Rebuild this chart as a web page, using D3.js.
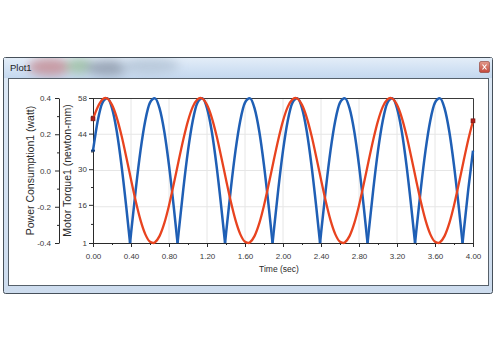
<!DOCTYPE html>
<html>
<head>
<meta charset="utf-8">
<script src="https://cdn.jsdelivr.net/npm/d3@7"></script>
<style>
  body { margin: 0; background: #fff; }
  svg { display: block; font-family: "Liberation Sans", Arial, sans-serif; }
</style>
</head>
<body>
<svg id="chart" width="500" height="350"></svg>
<script>
// sample times (sec)
const time = [
  0.00, 0.05, 0.10, 0.15, 0.20, 0.25, 0.30, 0.35, 0.40, 0.45,
  0.50, 0.55, 0.60, 0.65, 0.70, 0.75, 0.80, 0.85, 0.90, 0.95,
  1.00, 1.05, 1.10, 1.15, 1.20, 1.25, 1.30, 1.35, 1.40, 1.45,
  1.50, 1.55, 1.60, 1.65, 1.70, 1.75, 1.80, 1.85, 1.90, 1.95,
  2.00, 2.05, 2.10, 2.15, 2.20, 2.25, 2.30, 2.35, 2.40, 2.45,
  2.50, 2.55, 2.60, 2.65, 2.70, 2.75, 2.80, 2.85, 2.90, 2.95,
  3.00, 3.05, 3.10, 3.15, 3.20, 3.25, 3.30, 3.35, 3.40, 3.45,
  3.50, 3.55, 3.60, 3.65, 3.70, 3.75, 3.80, 3.85, 3.90, 3.95,
  4.00
];

// Motor Torque1 (newton-mm), blue
const torque = [
  37.3, 49.1, 56.2, 57.9, 54.0, 44.9, 31.5, 15.2, 4.6, 22.0,
  37.3, 49.1, 56.2, 57.9, 54.0, 44.9, 31.5, 15.2, 4.6, 22.0,
  37.3, 49.1, 56.2, 57.9, 54.0, 44.9, 31.5, 15.2, 4.6, 22.0,
  37.3, 49.1, 56.2, 57.9, 54.0, 44.9, 31.5, 15.2, 4.6, 22.0,
  37.3, 49.1, 56.2, 57.9, 54.0, 44.9, 31.5, 15.2, 4.6, 22.0,
  37.3, 49.1, 56.2, 57.9, 54.0, 44.9, 31.5, 15.2, 4.6, 22.0,
  37.3, 49.1, 56.2, 57.9, 54.0, 44.9, 31.5, 15.2, 4.6, 22.0,
  37.3, 49.1, 56.2, 57.9, 54.0, 44.9, 31.5, 15.2, 4.6, 22.0,
  37.3
];
// the sharp dips of the torque curve
const torqueDipTime = [0.39, 0.89, 1.39, 1.89, 2.39, 2.89, 3.39, 3.89];
const torqueDipValue = [1, 1, 1, 1, 1, 1, 1, 1];

// Power Consumption1 (watt), red
const power = [
  0.285, 0.351, 0.393, 0.397, 0.362, 0.292, 0.193, 0.075, -0.050, -0.170,
  -0.274, -0.351, -0.393, -0.397, -0.362, -0.292, -0.193, -0.075, 0.050, 0.170,
  0.274, 0.351, 0.393, 0.397, 0.362, 0.292, 0.193, 0.075, -0.050, -0.170,
  -0.274, -0.351, -0.393, -0.397, -0.362, -0.292, -0.193, -0.075, 0.050, 0.170,
  0.274, 0.351, 0.393, 0.397, 0.362, 0.292, 0.193, 0.075, -0.050, -0.170,
  -0.274, -0.351, -0.393, -0.397, -0.362, -0.292, -0.193, -0.075, 0.050, 0.170,
  0.274, 0.351, 0.393, 0.397, 0.362, 0.292, 0.193, 0.075, -0.050, -0.170,
  -0.274, -0.351, -0.393, -0.397, -0.362, -0.292, -0.193, -0.075, 0.050, 0.170,
  0.274
];
const powerPeakTime = [0.13, 0.64, 1.13, 1.64, 2.13, 2.64, 3.13, 3.64];
const powerPeakValue = [0.4, -0.4, 0.4, -0.4, 0.4, -0.4, 0.4, -0.4];

// ticks
const timeTicks = [0, 0.4, 0.8, 1.2, 1.6, 2.0, 2.4, 2.8, 3.2, 3.6, 4.0];
const timeMinor = [0.2, 0.6, 1.0, 1.4, 1.8, 2.2, 2.6, 3.0, 3.4, 3.8];
const powerTicks = [-0.4, -0.2, 0, 0.2, 0.4];
const powerMinor = [-0.3, -0.1, 0.1, 0.3];
const torqueTicks = [1, 16, 30, 44, 58];
const torqueMinor = [8.5, 23, 37, 51];

const svg = d3.select("#chart");

// ---- window chrome ----
const defs = svg.append("defs");
const tg = defs.append("linearGradient").attr("id", "frameGrad")
  .attr("x1", 0).attr("y1", 0).attr("x2", 0).attr("y2", 1);
tg.append("stop").attr("offset", "0%").attr("stop-color", "#dde9f6");
tg.append("stop").attr("offset", "100%").attr("stop-color", "#cddcee");
const hg = defs.append("linearGradient").attr("id", "titleGrad")
  .attr("x1", 0).attr("y1", 0).attr("x2", 0).attr("y2", 1);
hg.append("stop").attr("offset", "0%").attr("stop-color", "#e3edf8");
hg.append("stop").attr("offset", "100%").attr("stop-color", "#c4d8ef");
defs.append("filter").attr("id", "blur")
  .attr("x", "-50%").attr("y", "-50%").attr("width", "200%").attr("height", "200%")
  .append("feGaussianBlur").attr("stdDeviation", 5);
defs.append("clipPath").attr("id", "titleClip")
  .append("rect").attr("x", 4).attr("y", 58).attr("width", 488).attr("height", 20);
const cg = defs.append("linearGradient").attr("id", "closeGrad")
  .attr("x1", 0).attr("y1", 0).attr("x2", 0).attr("y2", 1);
cg.append("stop").attr("offset", "0%").attr("stop-color", "#e29a8c");
cg.append("stop").attr("offset", "100%").attr("stop-color", "#c4473a");

svg.append("rect")
  .attr("x", 3.5).attr("y", 57.5).attr("width", 489).attr("height", 236)
  .attr("rx", 2).attr("fill", "url(#frameGrad)").attr("stroke", "#46505a");
svg.append("rect")
  .attr("x", 4).attr("y", 58).attr("width", 488).attr("height", 20)
  .attr("fill", "url(#titleGrad)");

// aero tint behind the title
const glow = svg.append("g").attr("clip-path", "url(#titleClip)")
  .append("g").attr("filter", "url(#blur)").attr("opacity", 0.8);
glow.append("ellipse").attr("cx", 50).attr("cy", 67).attr("rx", 22).attr("ry", 9).attr("fill", "#c48a92");
glow.append("ellipse").attr("cx", 80).attr("cy", 66).attr("rx", 14).attr("ry", 8).attr("fill", "#98bc9c");
glow.append("ellipse").attr("cx", 108).attr("cy", 68).attr("rx", 22).attr("ry", 8).attr("fill", "#8e9aaa");
glow.append("ellipse").attr("cx", 150).attr("cy", 66).attr("rx", 30).attr("ry", 8).attr("fill", "#b4c4d6");

svg.append("text").attr("x", 10).attr("y", 71)
  .attr("font-size", 9.5).attr("fill", "#1e1e1e").text("Plot1");

// close button
svg.append("rect").attr("x", 479.5).attr("y", 61.5).attr("width", 10).attr("height", 11)
  .attr("rx", 1.5).attr("fill", "url(#closeGrad)").attr("stroke", "#8c3a32").attr("stroke-width", 0.6);
svg.append("path").attr("d", "M482.5,64.5L486.5,69.5M486.5,64.5L482.5,69.5")
  .attr("stroke", "#fff").attr("stroke-width", 1.2);

// client area
svg.append("rect")
  .attr("x", 8.5).attr("y", 78.5).attr("width", 480).attr("height", 207)
  .attr("fill", "#fff").attr("stroke", "#56606a");

// ---- chart ----
const plotLeft = 93, plotRight = 473, plotTop = 98, plotBottom = 243;

const x = d3.scaleLinear().domain([0, 4]).range([plotLeft, plotRight]);
const yT = d3.scaleLinear().domain([1, 58]).range([plotBottom, plotTop]);
const yP = d3.scaleLinear().domain([-0.4, 0.4]).range([plotBottom, plotTop]);

// grid
svg.append("g").selectAll("line").data(timeTicks.slice(1, -1)).join("line")
  .attr("x1", d => x(d)).attr("x2", d => x(d))
  .attr("y1", plotTop).attr("y2", plotBottom)
  .attr("stroke", "#e6e6e6");
svg.append("g").selectAll("line").data(powerTicks.slice(1, -1)).join("line")
  .attr("x1", plotLeft).attr("x2", plotRight)
  .attr("y1", d => yP(d)).attr("y2", d => yP(d))
  .attr("stroke", "#e6e6e6");

// frame (top and right)
svg.append("path")
  .attr("d", `M${plotLeft},${plotTop + 0.5}H${plotRight + 0.5}V${plotBottom}`)
  .attr("fill", "none").attr("stroke", "#3a3a3a");

function styleAxis(g) {
  g.select(".domain").attr("stroke", "#2a2a2a");
  g.selectAll(".tick line").attr("stroke", "#2a2a2a");
  g.selectAll("text").attr("fill", "#3a3a3a").attr("font-size", 8)
    .attr("font-family", '"Liberation Sans", Arial, sans-serif');
}

// x axis
svg.append("g").attr("transform", `translate(0,${plotBottom})`)
  .call(d3.axisBottom(x).tickValues(timeTicks).tickFormat(d => d.toFixed(2))
    .tickSize(4).tickSizeOuter(0).tickPadding(6))
  .call(styleAxis);
svg.append("g").attr("transform", `translate(0,${plotBottom})`)
  .call(d3.axisBottom(x).tickValues(timeMinor).tickFormat("").tickSize(2).tickSizeOuter(0))
  .call(g => g.select(".domain").remove())
  .call(styleAxis);

// torque axis (inner)
svg.append("g").attr("transform", `translate(${plotLeft},0)`)
  .call(d3.axisLeft(yT).tickValues(torqueTicks).tickFormat(d3.format("d"))
    .tickSize(4).tickSizeOuter(0).tickPadding(2))
  .call(styleAxis);
svg.append("g").attr("transform", `translate(${plotLeft},0)`)
  .call(d3.axisLeft(yT).tickValues(torqueMinor).tickFormat("").tickSize(2).tickSizeOuter(0))
  .call(g => g.select(".domain").remove())
  .call(styleAxis);

// power axis (outer)
const px = 59;
svg.append("g").attr("transform", `translate(${px},0)`)
  .call(d3.axisLeft(yP).tickValues(powerTicks).tickFormat(d => d.toFixed(1))
    .tickSize(4).tickSizeOuter(0).tickPadding(4))
  .call(styleAxis);
svg.append("g").attr("transform", `translate(${px},0)`)
  .call(d3.axisLeft(yP).tickValues(powerMinor).tickFormat("").tickSize(2).tickSizeOuter(0))
  .call(g => g.select(".domain").remove())
  .call(styleAxis);

// axis titles
svg.append("text").attr("x", x(2.0) - 4).attr("y", 272)
  .attr("text-anchor", "middle").attr("font-size", 8.5).attr("fill", "#2a2a2a")
  .text("Time (sec)");
svg.append("text").attr("transform", `translate(34,${(plotTop + plotBottom) / 2}) rotate(-90)`)
  .attr("text-anchor", "middle").attr("font-size", 10.5).attr("fill", "#2a2a2a")
  .text("Power Consumption1 (watt)");
svg.append("text").attr("transform", `translate(71,${(plotTop + plotBottom) / 2}) rotate(-90)`)
  .attr("text-anchor", "middle").attr("font-size", 10.5).attr("fill", "#2a2a2a")
  .text("Motor Torque1 (newton-mm)");

// ---- series ----
const torquePts = time.map((t, i) => ({ t, v: torque[i], dip: false }))
  .concat(torqueDipTime.map((t, i) => ({ t, v: torqueDipValue[i], dip: true })))
  .sort((a, b) => a.t - b.t);
// split into humps so each dip stays a sharp V
const humps = [];
let cur = [];
torquePts.forEach(p => {
  cur.push(p);
  if (p.dip) { humps.push(cur); cur = [p]; }
});
humps.push(cur);

const torqueLine = d3.line().x(d => x(d.t)).y(d => yT(d.v)).curve(d3.curveMonotoneX);
svg.append("g").selectAll("path").data(humps).join("path")
  .attr("d", torqueLine)
  .attr("fill", "none").attr("stroke", "#1f5fb5").attr("stroke-width", 2.5)
  .attr("stroke-linejoin", "round");

const powerPts = time.map((t, i) => ({ t, v: power[i] }))
  .concat(powerPeakTime.map((t, i) => ({ t, v: powerPeakValue[i] })))
  .sort((a, b) => a.t - b.t);
const powerLine = d3.line().x(d => x(d.t)).y(d => yP(d.v)).curve(d3.curveMonotoneX);
svg.append("path").datum(powerPts)
  .attr("d", powerLine)
  .attr("fill", "none").attr("stroke", "#e8431f").attr("stroke-width", 2.3)
  .attr("stroke-linejoin", "round");

// end markers
svg.append("rect")
  .attr("x", x(time[0]) - 2).attr("y", yT(torque[0]) - 1)
  .attr("width", 4).attr("height", 2).attr("fill", "#14407e");
svg.append("g").selectAll("rect").data([0, time.length - 1]).join("rect")
  .attr("x", i => x(time[i]) - 2).attr("y", i => yP(power[i]) - 2)
  .attr("width", 4).attr("height", 4)
  .attr("fill", "#b0201a").attr("stroke", "#6e1410").attr("stroke-width", 0.6);
</script>
</body>
</html>
